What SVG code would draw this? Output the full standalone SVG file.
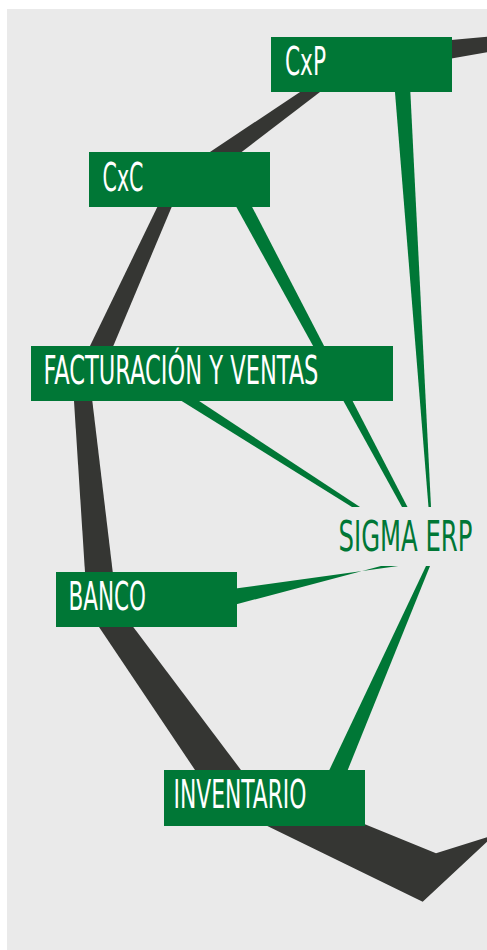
<svg xmlns="http://www.w3.org/2000/svg" width="487" height="950" viewBox="0 0 487 950">
<style>
.bg{fill:#EAEAEA}
.band{fill:#353633}
.spoke{fill:#007736}
.box{fill:#007736}
.lbl{font-family:"DejaVu Sans Condensed","DejaVu Sans","Liberation Sans",sans-serif;font-size:39px;fill:#FFFFFF}
.hub{font-family:"DejaVu Sans Condensed","DejaVu Sans","Liberation Sans",sans-serif;font-size:42px;fill:#007736}
</style>
<rect class="bg" x="7" y="9" width="480" height="941"/>
<g id="connectors">
  <g id="band">
    <polygon class="band" points="487,36.7 487,52.3 440,60.4 440,41.1"/>
    <polygon class="band" points="318,80 335.7,80 224.7,165 190.5,165"/>
    <polygon class="band" points="160.7,200 174.6,200 109.5,355 85.6,355"/>
    <polygon class="band" points="73.6,395 91.6,395 113.7,580 85.5,580"/>
    <polygon class="band" points="94.3,620 128,620 248.5,780 201.7,780"/>
    <polygon class="band" points="250,777.4 436,853.3 487,837.3 487,841.7 422.7,901.7 250,817.6"/>
  </g>
  <g id="spokes">
    <polygon class="spoke" points="394.4,85 410,85 431,507 428.5,507"/>
    <polygon class="spoke" points="232.5,200 248.5,200 407.5,507 402,507"/>
    <polygon class="spoke" points="172,395 190,395 360,507 352,507"/>
    <polygon class="spoke" points="230,589.3 398.3,566 381,566 230,606"/>
    <polygon class="spoke" points="426,566 430,566 343.7,780 324.6,780"/>
  </g>
</g>
<g id="node-cxp">
  <rect class="box" x="271" y="37" width="181" height="55"/>
  <text class="lbl" transform="translate(285,75) scale(0.62,1)" x="0" y="0" textLength="66.1" lengthAdjust="spacingAndGlyphs">CxP</text>
</g>
<g id="node-cxc">
  <rect class="box" x="89" y="152" width="181" height="55"/>
  <text class="lbl" transform="translate(102.5,190.5) scale(0.62,1)" x="0" y="0" textLength="66.1" lengthAdjust="spacingAndGlyphs">CxC</text>
</g>
<g id="node-facturacion">
  <rect class="box" x="31" y="346" width="362" height="55"/>
  <text class="lbl" transform="translate(43.5,384.3) scale(0.62,1)" x="0" y="0" textLength="443.5" lengthAdjust="spacingAndGlyphs">FACTURACIÓN Y VENTAS</text>
</g>
<g id="node-banco">
  <rect class="box" x="56" y="572" width="181" height="55"/>
  <text class="lbl" transform="translate(68.5,610) scale(0.62,1)" x="0" y="0" textLength="125" lengthAdjust="spacingAndGlyphs">BANCO</text>
</g>
<g id="node-inventario">
  <rect class="box" x="164" y="770" width="201" height="56"/>
  <text class="lbl" transform="translate(173.5,808.3) scale(0.62,1)" x="0" y="0" textLength="214.5" lengthAdjust="spacingAndGlyphs">INVENTARIO</text>
</g>
<g id="node-sigma">
  <text class="hub" transform="translate(338.5,551) scale(0.65,1)" x="0" y="0" textLength="206" lengthAdjust="spacingAndGlyphs">SIGMA ERP</text>
</g>
</svg>
